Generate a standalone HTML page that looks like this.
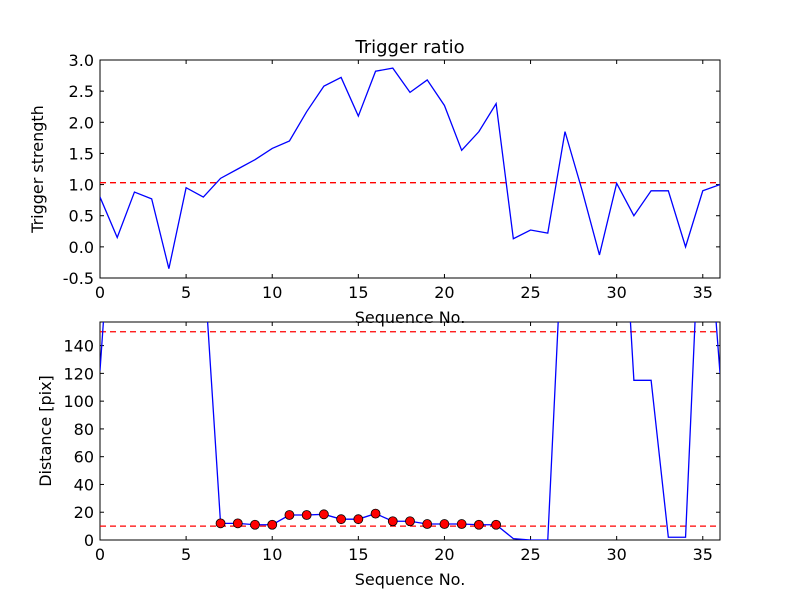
<!DOCTYPE html>
<html><head><meta charset="utf-8"><style>body{margin:0;background:#fff}svg{font-family:"DejaVu Sans","Liberation Sans",sans-serif}</style></head>
<body>
<svg id="c" width="800" height="600" xmlns="http://www.w3.org/2000/svg">
<rect width="800" height="600" fill="#fff"/>
<defs><clipPath id="cp1"><rect x="100" y="60" width="620" height="218"/></clipPath><clipPath id="cp2"><rect x="100" y="322" width="620" height="218"/></clipPath></defs>
</svg>
<script>
const seq=[0,1,2,3,4,5,6,7,8,9,10,11,12,13,14,15,16,17,18,19,20,21,22,23,24,25,26,27,28,29,30,31,32,33,34,35,36];
const ratio=[0.8,0.15,0.88,0.77,-0.35,0.95,0.8,1.1,1.25,1.4,1.58,1.7,2.17,2.58,2.72,2.1,2.82,2.87,2.48,2.68,2.27,1.55,1.85,2.3,0.13,0.27,0.22,1.85,0.9,-0.13,1.02,0.5,0.9,0.9,0,0.9,1.0];
const ratioThreshold=1.03;
const dist=[122,300,300,300,300,300,205,12,12,11,11,18,18,18.5,15,15,19,13.5,13.5,11.5,11.5,11.5,11,11,1,0,0,260,300,300,325,115,115,2,2,284,120];
const markedIdx=[7,8,9,10,11,12,13,14,15,16,17,18,19,20,21,22,23];
const distThresholds=[150,10];
const xTicks=[0,5,10,15,20,25,30,35];
const yTicksTop=[3.0,2.5,2.0,1.5,1.0,0.5,0.0,-0.5];
const yTicksBot=[0,20,40,60,80,100,120,140];
const NS="http://www.w3.org/2000/svg",svg=document.getElementById('c');
function mk(t,a,p){const e=document.createElementNS(NS,t);for(const k in a)e.setAttribute(k,a[k]);(p||svg).appendChild(e);return e;}
const L=100,R=720;
const x=v=>L+(v-0)/36*(R-L);
const y1=v=>60+(3.0-v)/3.5*218;
const y2=v=>540-v/157*218;
function axes(top,bot,ticks,yf,fmt,name){
  const fr=mk('rect',{x:L,y:top,width:R-L,height:bot-top,fill:'none',stroke:'#000','stroke-width':1});
  
  xTicks.forEach(t=>{const X=x(t);mk('line',{x1:X,x2:X,y1:bot,y2:bot-4,stroke:'#000'});mk('line',{x1:X,x2:X,y1:top,y2:top+4,stroke:'#000'});
    const tx=mk('text',{x:X,y:bot+20,'text-anchor':'middle','font-size':16});tx.textContent=t;
    });
  ticks.forEach(t=>{const Y=yf(t);mk('line',{x1:L,x2:L+4,y1:Y,y2:Y,stroke:'#000'});mk('line',{x1:R,x2:R-4,y1:Y,y2:Y,stroke:'#000'});
    const tx=mk('text',{x:L-6,y:Y+6,'text-anchor':'end','font-size':16});tx.textContent=fmt(t);
    });
}
axes(60,278,yTicksTop,y1,t=>t.toFixed(1),'top-axes');
axes(322,540,yTicksBot,y2,t=>t,'bottom-axes');
const g1=mk('g',{'clip-path':'url(#cp1)'});
const th=mk('line',{x1:L,x2:R,y1:y1(ratioThreshold),y2:y1(ratioThreshold),stroke:'red','stroke-dasharray':'6,4','stroke-width':1.3},g1);

const p1=mk('polyline',{points:seq.map((s,i)=>x(s)+','+y1(ratio[i])).join(' '),fill:'none',stroke:'blue','stroke-width':1.3},g1);

const g2=mk('g',{'clip-path':'url(#cp2)'});
distThresholds.forEach(v=>{const l=mk('line',{x1:L,x2:R,y1:y2(v),y2:y2(v),stroke:'red','stroke-dasharray':'6,4','stroke-width':1.3},g2);
  });
const p2=mk('polyline',{points:seq.map((s,i)=>x(s)+','+y2(dist[i])).join(' '),fill:'none',stroke:'blue','stroke-width':1.3},g2);

markedIdx.forEach(i=>{const c=mk('circle',{cx:x(seq[i]),cy:y2(dist[i]),r:4.5,fill:'red',stroke:'#000','stroke-width':0.8},g2);
  });
function txt(s,a,n){const t=mk('text',a);t.textContent=s;}
txt('Trigger ratio',{x:410,y:53,'text-anchor':'middle','font-size':18},'chart-title');
txt('Sequence No.',{x:410,y:323,'text-anchor':'middle','font-size':16},'top-x-axis-title');
txt('Sequence No.',{x:410,y:585,'text-anchor':'middle','font-size':16},'bottom-x-axis-title');
txt('Trigger strength',{x:43,y:169,'text-anchor':'middle','font-size':16,transform:'rotate(-90 43 169)'},'top-y-axis-title');
txt('Distance [pix]',{x:51,y:431,'text-anchor':'middle','font-size':16,transform:'rotate(-90 51 431)'},'bottom-y-axis-title');
</script>
</body></html>
